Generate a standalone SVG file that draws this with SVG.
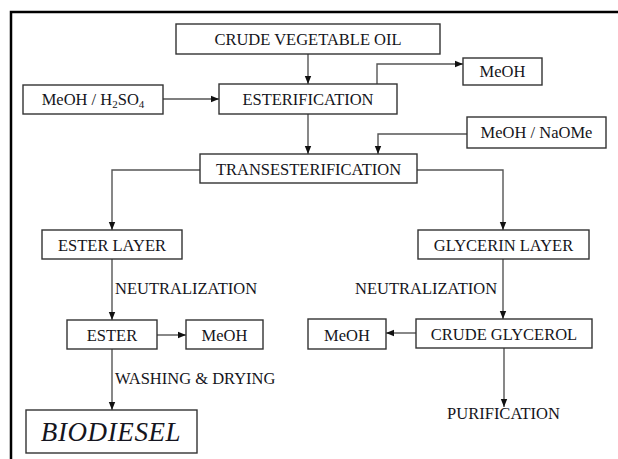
<svg xmlns="http://www.w3.org/2000/svg" width="618" height="459" viewBox="0 0 618 459">
<defs>
<marker id="ah" viewBox="0 0 8 8" refX="8" refY="4" markerWidth="8" markerHeight="8" markerUnits="userSpaceOnUse" orient="auto">
<path d="M0,0.8 L8,4 L0,7.2 Z" fill="#111"/>
</marker>
<style>
.box{fill:#fff;stroke:#333;stroke-width:1.4}
.t{font-family:"Liberation Serif","Times New Roman",serif;font-size:16.5px;fill:#151520;text-anchor:middle}
.lbl{font-family:"Liberation Serif","Times New Roman",serif;font-size:16.5px;fill:#151520}
.big{font-family:"Liberation Serif","Times New Roman",serif;font-size:27px;font-style:italic;fill:#151520;text-anchor:middle;letter-spacing:0.6px}
.c{fill:none;stroke:#555;stroke-width:1.4}
.ca{fill:none;stroke:#555;stroke-width:1.4;marker-end:url(#ah)}
</style>
</defs>
<rect width="618" height="459" fill="#fff"/>
<path d="M11,459 L11,12 L618,12" fill="none" stroke="#000" stroke-width="2.5"/>
<g id="connectors">
<path class="ca" d="M308,54 L308,84"/>
<path class="ca" d="M163,99 L219,99"/>
<path class="ca" d="M377,84 L377,64 L463,64"/>
<path class="ca" d="M308,114 L308,154"/>
<path class="ca" d="M467,134 L378,134 L378,154"/>
<path class="ca" d="M200,170 L112,170 L112,230"/>
<path class="ca" d="M417,170 L503,170 L503,230"/>
<path class="ca" d="M112,259 L112,320"/>
<path class="ca" d="M503,259 L503,319"/>
<path class="ca" d="M157,335 L186,335"/>
<path class="ca" d="M416,333 L386,333"/>
<path class="ca" d="M112,349 L112,410"/>
<path class="ca" d="M504,348 L504,407"/>
</g>
<g id="crude_oil"><rect class="box" x="176" y="24" width="264" height="30"/><text class="t" x="308" y="45">CRUDE VEGETABLE OIL</text></g>
<g id="meoh_top"><rect class="box" x="463" y="58" width="79" height="27"/><text class="t" x="502.5" y="77">MeOH</text></g>
<g id="meoh_h2so4"><rect class="box" x="23" y="85" width="140" height="29"/><text class="t" x="93" y="105">MeOH / H<tspan style="font-size:11px" dy="3">2</tspan><tspan dy="-3">SO</tspan><tspan style="font-size:11px" dy="3">4</tspan></text></g>
<g id="esterification"><rect class="box" x="219" y="84" width="178" height="30"/><text class="t" x="308" y="105">ESTERIFICATION</text></g>
<g id="meoh_naome"><rect class="box" x="467" y="117" width="139" height="31"/><text class="t" x="536.5" y="138">MeOH / NaOMe</text></g>
<g id="transesterification"><rect class="box" x="200" y="154" width="217" height="29"/><text class="t" x="308.5" y="175">TRANSESTERIFICATION</text></g>
<g id="ester_layer"><rect class="box" x="42" y="230" width="140" height="29"/><text class="t" x="112" y="251">ESTER LAYER</text></g>
<g id="glycerin_layer"><rect class="box" x="418" y="230" width="171" height="29"/><text class="t" x="503.5" y="251">GLYCERIN LAYER</text></g>
<g id="neutralization_left"><text class="lbl" x="115" y="294">NEUTRALIZATION</text></g>
<g id="neutralization_right"><text class="lbl" x="355" y="294">NEUTRALIZATION</text></g>
<g id="ester"><rect class="box" x="67" y="320" width="90" height="29"/><text class="t" x="112" y="341">ESTER</text></g>
<g id="meoh_ester"><rect class="box" x="186" y="320" width="77" height="29"/><text class="t" x="224.5" y="341">MeOH</text></g>
<g id="meoh_glycerol"><rect class="box" x="308" y="319" width="78" height="30"/><text class="t" x="347" y="341">MeOH</text></g>
<g id="crude_glycerol"><rect class="box" x="416" y="319" width="176" height="29"/><text class="t" x="504" y="340">CRUDE GLYCEROL</text></g>
<g id="washing"><text class="lbl" x="115" y="384">WASHING &amp; DRYING</text></g>
<g id="purification"><text class="t" x="503.5" y="419">PURIFICATION</text></g>
<g id="biodiesel"><rect class="box" x="26" y="410" width="171" height="43"/><text class="big" x="111" y="441">BIODIESEL</text></g>
</svg>
